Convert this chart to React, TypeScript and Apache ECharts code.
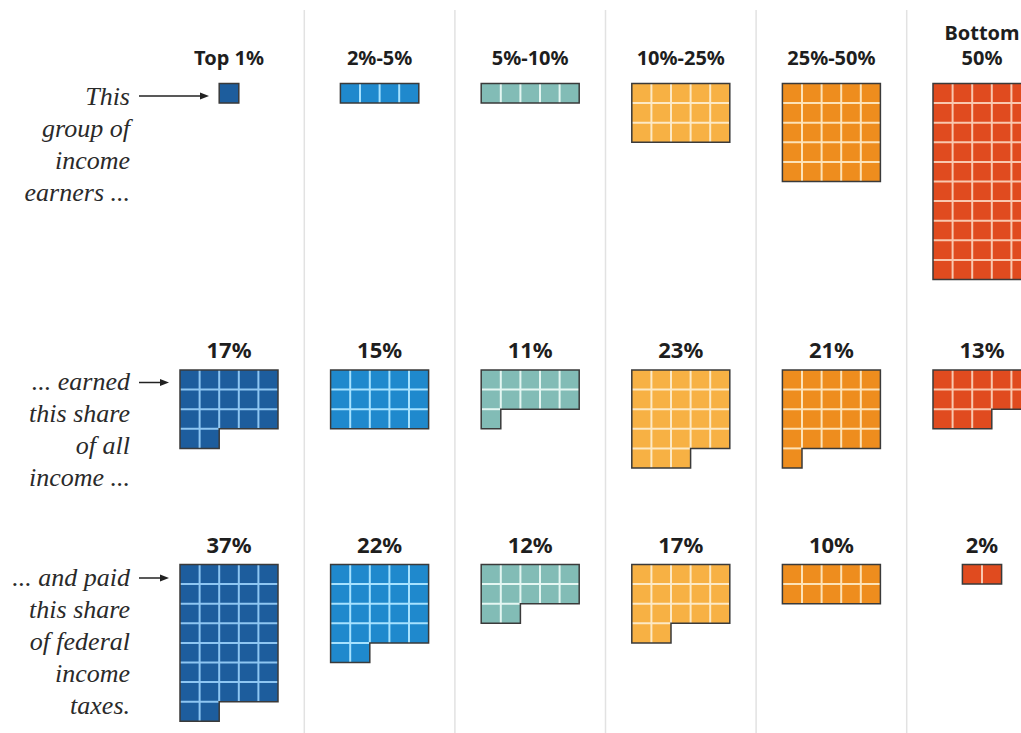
import React, { useEffect, useRef } from "react";
import * as echarts from "echarts";

// ---- data ----
const CATEGORIES = ["Top 1%", "2%-5%", "5%-10%", "10%-25%", "25%-50%", "Bottom\n50%"];
const GROUP_SHARE = [1, 4, 5, 15, 25, 50];
const INCOME_SHARE = [17, 15, 11, 23, 21, 13];
const TAX_SHARE = [37, 22, 12, 17, 10, 2];
const SECTIONS = [GROUP_SHARE, INCOME_SHARE, TAX_SHARE];
const ROW_NOTES = [
  "This\ngroup of\nincome\nearners ...",
  "... earned\nthis share\nof all\nincome ...",
  "... and paid\nthis share\nof federal\nincome\ntaxes.",
];

// ---- styles ----
const FILL = ["#1d5d9d", "#1f89cd", "#82bcb6", "#f7b144", "#ee8d1e", "#e04b1f"];
const GRIDLINE = ["#8ec6f2", "#a6e2ff", "#e4f6f2", "#fde9c4", "#fde2b6", "#f9c7ae"];
const OUTLINE = "#3a3a3a";
const SERIF_FONT = "italic 26px 'Liberation Serif', 'DejaVu Serif', serif";
const HEADER_FONT = "bold 20px 'Noto Sans', 'Open Sans', sans-serif";
const VALUE_FONT = "bold 22px 'Noto Sans', 'Open Sans', sans-serif";

// ---- layout (in cell units, 1 cell = 19.6px) ----
const CELL = 19.6;
const COL_STEP = 150.6 / CELL;
const SECTION_TOP = [83.5 / CELL, 370 / CELL, 564.5 / CELL];
const X_MAX = (1021 - 180) / CELL;
const Y_MAX = 733 / CELL;

function renderItem(params: any, api: any) {
  const c = api.value(0);
  const s = api.value(1);
  const v = api.value(2);
  const x0 = c * COL_STEP;
  const y0 = SECTION_TOP[s];
  const P = (x: number, y: number) => api.coord([x0 + x, y0 + y]);
  const full = Math.floor(v / 5);
  const rem = v % 5;
  let off = 0;
  let pts: number[][];
  if (v < 5) {
    off = (5 - v) / 2;
    pts = [[off, 0], [off + v, 0], [off + v, 1], [off, 1]];
  } else if (rem === 0) {
    pts = [[0, 0], [5, 0], [5, full], [0, full]];
  } else {
    pts = [[0, 0], [5, 0], [5, full], [rem, full], [rem, full + 1], [0, full + 1]];
  }
  const poly = pts.map((p) => P(p[0], p[1]));
  const children: any[] = [];

  if (s === 0 && c > 0) {
    const sx = x0 - (COL_STEP - 5) / 2;
    const a = api.coord([sx, 10 / CELL]);
    const b = api.coord([sx, Y_MAX]);
    children.push({
      type: "line",
      shape: { x1: a[0], y1: a[1], x2: b[0], y2: b[1] },
      style: { stroke: "#e2e2e2", lineWidth: 1.5 },
    });
  }

  children.push({ type: "polygon", shape: { points: poly }, style: { fill: FILL[c], stroke: null } });

  const seg = (xa: number, ya: number, xb: number, yb: number) => {
    const a = P(xa, ya);
    const b = P(xb, yb);
    children.push({
      type: "line",
      shape: { x1: a[0], y1: a[1], x2: b[0], y2: b[1] },
      style: { stroke: GRIDLINE[c], lineWidth: 2 },
    });
  };
  if (v < 5) {
    for (let k = 1; k < v; k++) seg(off + k, 0, off + k, 1);
  } else {
    const rows = full + (rem ? 1 : 0);
    for (let k = 1; k < 5; k++) {
      const bottom = full + (k < rem ? 1 : 0);
      if (bottom > 0) seg(k, 0, k, bottom);
    }
    for (let j = 1; j < rows; j++) {
      const w = Math.min(5, v - 5 * j);
      seg(0, j, w, j);
    }
  }
  children.push({
    type: "polygon",
    shape: { points: poly },
    style: { fill: null, stroke: OUTLINE, lineWidth: 1.5, lineJoin: "miter" },
  });

  const top = P(2.5, 0);
  if (s === 0) {
    const lines = CATEGORIES[c].split("\n").reverse();
    lines.forEach((t, i) => {
      children.push({
        type: "text",
        style: {
          text: t,
          x: top[0],
          y: top[1] - 26 - i * 25,
          align: "center",
          verticalAlign: "middle",
          font: HEADER_FONT,
          fill: "#1e1e1e",
        },
      });
    });
  } else {
    children.push({
      type: "text",
      style: {
        text: v + "%",
        x: top[0],
        y: top[1] - 21,
        align: "center",
        verticalAlign: "middle",
        font: VALUE_FONT,
        fill: "#1e1e1e",
      },
    });
  }
  return { type: "group", children };
}

export default function App() {
  const ref = useRef<HTMLDivElement>(null);
  useEffect(() => {
    if (!ref.current) return;
    const chart = echarts.init(ref.current, undefined, { renderer: "svg" });
    const data: number[][] = [];
    SECTIONS.forEach((arr, s) => arr.forEach((v, c) => data.push([c, s, v])));

    const noteY = [80, 365, 561];
    const arrows = [
      { x1: 139, x2: 209, y: 96 },
      { x1: 139, x2: 169, y: 382.5 },
      { x1: 139, x2: 169, y: 578 },
    ];
    const graphic: any[] = [];
    ROW_NOTES.forEach((t, i) => {
      graphic.push({
        type: "text",
        x: 130,
        y: noteY[i],
        style: {
          text: t,
          align: "right",
          verticalAlign: "top",
          lineHeight: 32,
          font: SERIF_FONT,
          fill: "#2a2a2a",
        },
      });
      const a = arrows[i];
      graphic.push({
        type: "line",
        shape: { x1: a.x1, y1: a.y, x2: a.x2 - 6, y2: a.y },
        style: { stroke: "#222", lineWidth: 1.5 },
      });
      graphic.push({
        type: "polygon",
        shape: { points: [[a.x2 - 9, a.y - 3.5], [a.x2, a.y], [a.x2 - 9, a.y + 3.5]] },
        style: { fill: "#222" },
      });
    });

    chart.setOption({
      animation: false,
      backgroundColor: "#ffffff",
      grid: { left: 180, right: 0, top: 0, bottom: 0 },
      xAxis: { type: "value", min: 0, max: X_MAX, show: false },
      yAxis: { type: "value", min: 0, max: Y_MAX, inverse: true, show: false },
      graphic,
      series: [
        {
          type: "custom",
          coordinateSystem: "cartesian2d",
          clip: false,
          renderItem,
          data,
        },
      ],
    });
    return () => chart.dispose();
  }, []);
  return (
    <div
      ref={ref}
      style={{ position: "fixed", left: 0, top: 0, width: 1021, height: 733 }}
    />
  );
}
